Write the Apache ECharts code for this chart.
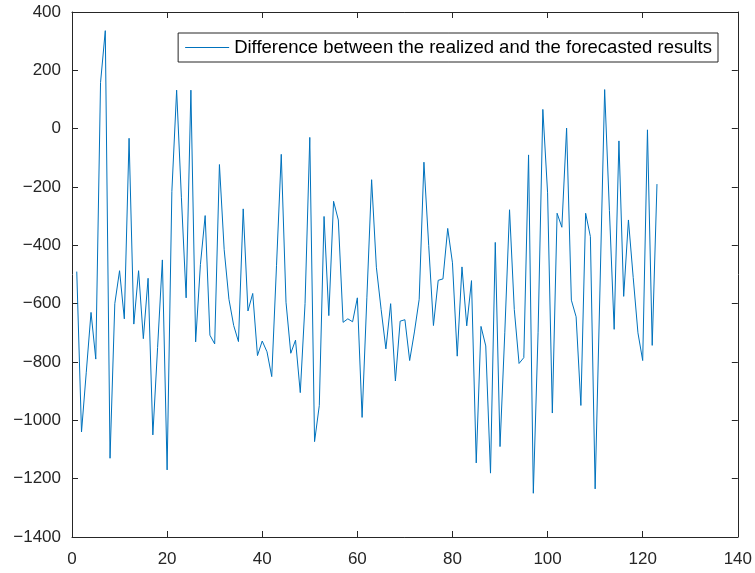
<!DOCTYPE html>
<html>
<head>
<meta charset="utf-8">
<script src="https://cdn.jsdelivr.net/npm/echarts@6/dist/echarts.min.js"></script>
<style>
  html, body { margin: 0; padding: 0; background: #fff; }
  #chart { width: 755px; height: 573px; }
</style>
</head>
<body>
<div id="chart"></div>
<script>
// Sample index (1..123) and the realized-minus-forecast difference at each index
const sampleIndex = Array.from({ length: 123 }, (_, k) => k + 1);
const differences = [
  -490, -1040, -835, -630, -790, 158, 336, -1130, -600, -487,
  -652, -33, -670, -487, -720, -513, -1050, -750, -450, -1170,
  -215, 132, -235, -580, 132, -731, -466, -298, -708, -738,
  -123, -415, -585, -675, -730, -275, -625, -565, -778, -728,
  -765, -850, -470, -88, -595, -770, -725, -905, -600, -30,
  -1073, -949, -301, -641, -249, -313, -664, -652, -662, -580,
  -990, -580, -175, -475, -620, -755, -600, -865, -660, -655,
  -795, -697, -585, -115, -400, -675, -520, -515, -342, -460,
  -780, -474, -676, -521, -1146, -678, -745, -1181, -390, -1090,
  -700, -278, -620, -805, -785, -90, -1250, -700, 66, -220,
  -975, -290, -338, 2, -588, -645, -949, -290, -370, -1235,
  -560, 134, -280, -688, -42, -575, -313, -510, -700, -795,
  -4, -743, -190
];
const seriesName = 'Difference between the realized and the forecasted results';

// Axis ranges and tick steps
const xRange = [0, 140], xStep = 20;
const yRange = [-1400, 400], yStep = 200;

const axisColor = '#262626';
const fontFamily = '"Liberation Sans", Arial, Helvetica, sans-serif';

const chart = echarts.init(document.getElementById('chart'), null, { renderer: 'canvas' });

const axisBase = {
  type: 'value',
  axisLine: { show: true, onZero: false, lineStyle: { color: axisColor, width: 1 } },
  axisTick: { show: true, inside: true, length: 6, lineStyle: { color: axisColor } },
  splitLine: { show: false }
};

// Integer tick text with a typographic minus and no thousands separators
const plainNumber = v => (v < 0 ? '\u2212' + Math.abs(v) : String(v));

chart.setOption({
  animation: false,
  backgroundColor: '#ffffff',
  grid: { left: 72, right: 16, top: 12, bottom: 36, containLabel: false },
  legend: {
    data: [seriesName],
    right: 37, top: 33,
    orient: 'horizontal',
    icon: 'rect',
    itemWidth: 44, itemHeight: 1,
    itemGap: 8,
    padding: [5, 6, 5, 7],
    borderColor: axisColor, borderWidth: 1,
    backgroundColor: '#ffffff',
    textStyle: { color: '#000', fontFamily, fontSize: 18.5 }
  },
  xAxis: [
    Object.assign({}, axisBase, {
      min: xRange[0], max: xRange[1], interval: xStep, position: 'bottom',
      axisLabel: { color: axisColor, fontFamily, fontSize: 17, margin: 14, formatter: plainNumber }
    }),
    Object.assign({}, axisBase, {
      min: xRange[0], max: xRange[1], interval: xStep, position: 'top',
      axisLabel: { show: false }
    })
  ],
  yAxis: [
    Object.assign({}, axisBase, {
      min: yRange[0], max: yRange[1], interval: yStep, position: 'left',
      axisLabel: { color: axisColor, fontFamily, fontSize: 17, margin: 11, formatter: plainNumber }
    }),
    Object.assign({}, axisBase, {
      min: yRange[0], max: yRange[1], interval: yStep, position: 'right',
      axisLabel: { show: false }
    })
  ],
  series: [{
    name: seriesName,
    type: 'line',
    xAxisIndex: 0, yAxisIndex: 0,
    data: sampleIndex.map((x, k) => [x, differences[k]]),
    symbol: 'none',
    lineStyle: { color: '#0072BD', width: 1 },
    itemStyle: { color: '#0072BD' }
  }]
});
</script>
</body>
</html>
